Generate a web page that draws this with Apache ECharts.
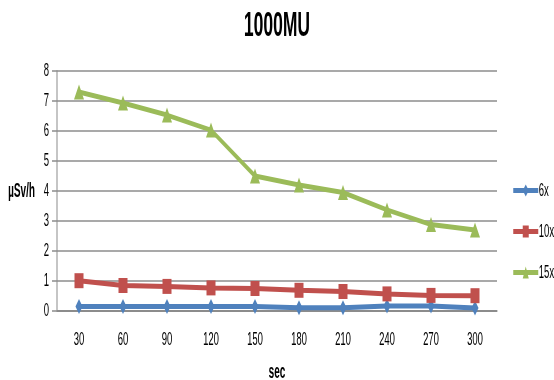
<!DOCTYPE html>
<html>
<head>
<meta charset="utf-8">
<script src="https://cdn.jsdelivr.net/npm/echarts@6/dist/echarts.min.js"></script>
<style>
  html, body { margin: 0; padding: 0; background: #fff; overflow: hidden; }
  #wrap { width: 554px; height: 380px; overflow: hidden; }
  /* the chart is laid out twice as wide and condensed horizontally */
  #chart { width: 1108px; height: 380px; transform: scaleX(0.5); transform-origin: 0 0; }
</style>
</head>
<body>
<div id="wrap"><div id="chart"></div></div>
<script>
// Dose rate readings (µSv/h) over time at 1000 MU
const categories = ['30', '60', '90', '120', '150', '180', '210', '240', '270', '300'];
const series6x  = [0.15, 0.15, 0.15, 0.15, 0.15, 0.11, 0.11, 0.17, 0.17, 0.10];
const series10x = [1.01, 0.85, 0.82, 0.77, 0.75, 0.69, 0.65, 0.57, 0.52, 0.51];
const series15x = [7.30, 6.93, 6.53, 6.03, 4.50, 4.20, 3.95, 3.37, 2.88, 2.70];
const yTicks = [0, 1, 2, 3, 4, 5, 6, 7, 8];

const FONT = "'Liberation Sans', Arial, sans-serif";
const GRID_COLOR = '#8c8c8c';

const chart = echarts.init(document.getElementById('chart'));

function lineSeries(name, data, color, symbol, size) {
  return {
    name: name,
    type: 'line',
    data: data,
    symbol: symbol,
    symbolSize: size,
    lineStyle: { color: color, width: 5 },
    itemStyle: { color: color },
    animation: false
  };
}

chart.setOption({
  backgroundColor: '#ffffff',
  title: {
    text: '1000MU',
    left: 'center',
    top: 4,
    textStyle: { fontFamily: FONT, fontWeight: 'bold', fontSize: 35, color: '#000' }
  },
  legend: {
    orient: 'vertical',
    left: 1024,
    top: 181,
    padding: 0,
    itemGap: 22,
    itemWidth: 50,
    itemHeight: 15,
    data: ['6x', '10x', '15x'],
    lineStyle: { width: 5 },
    textStyle: { fontFamily: FONT, fontSize: 19, color: '#000', padding: [0, 0, 0, -4] }
  },
  grid: { left: 114, right: 114, top: 71, bottom: 69, outerBoundsMode: 'none', containLabel: false },
  xAxis: {
    type: 'category',
    data: categories,
    boundaryGap: true,
    name: 'sec',
    nameLocation: 'middle',
    nameGap: 51,
    nameTextStyle: { fontFamily: FONT, fontWeight: 'bold', fontSize: 20, color: '#000' },
    axisLine: { lineStyle: { color: GRID_COLOR, width: 2 } },
    axisTick: { show: false },
    axisLabel: { fontFamily: FONT, fontSize: 19, color: '#000', margin: 19 }
  },
  yAxis: {
    type: 'value',
    min: yTicks[0],
    max: yTicks[yTicks.length - 1],
    interval: 1,
    name: 'µSv/h',
    nameLocation: 'middle',
    nameRotate: 0,
    nameGap: 44,
    nameTextStyle: { fontFamily: FONT, fontWeight: 'bold', fontSize: 20, color: '#000', align: 'right' },
    axisLine: { show: true, lineStyle: { color: GRID_COLOR, width: 2 } },
    axisTick: { show: true, length: 10, lineStyle: { color: GRID_COLOR, width: 1.5 } },
    splitLine: { lineStyle: { color: GRID_COLOR, width: 1.5 } },
    axisLabel: { fontFamily: FONT, fontSize: 19, color: '#000', margin: 16 }
  },
  series: [
    lineSeries('6x', series6x, '#4F81BD', 'diamond', [14, 15]),
    lineSeries('10x', series10x, '#C0504D', 'rect', [18, 15]),
    lineSeries('15x', series15x, '#9BBB59', 'triangle', [20, 15])
  ]
});
</script>
</body>
</html>
